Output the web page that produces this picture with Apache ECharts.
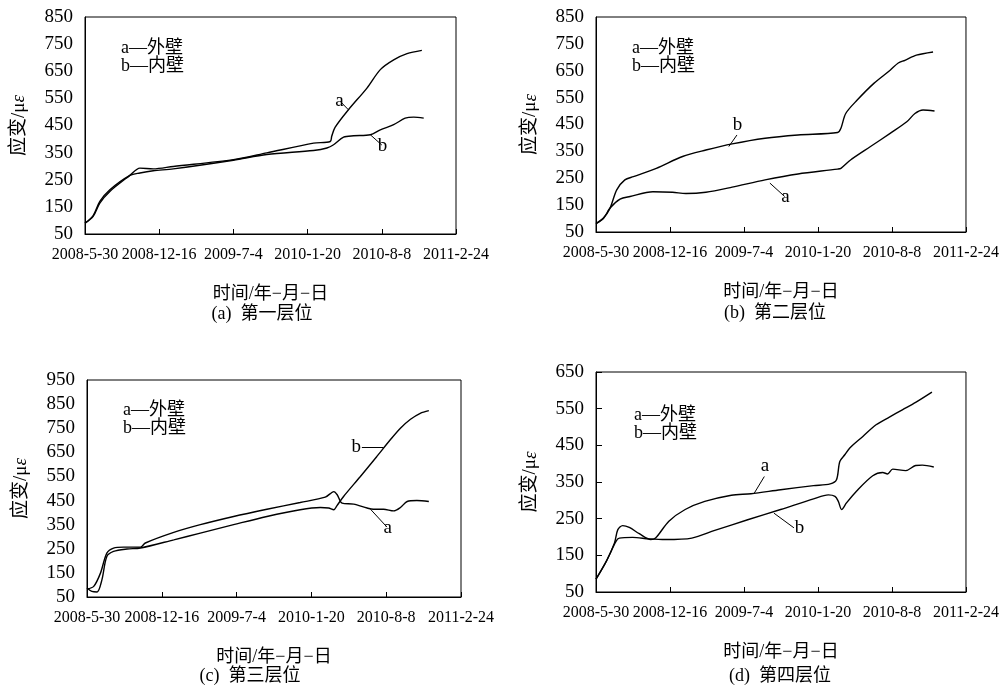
<!DOCTYPE html>
<html><head><meta charset="utf-8">
<script src="https://cdn.jsdelivr.net/npm/echarts@6/dist/echarts.min.js"></script>
<style>html,body{margin:0;padding:0;background:#fff}#c{width:1002px;height:689px}</style>
</head><body><div id="c"></div>
<script>
// ---- tick labels ----
const xTickLabels = ['2008-5-30','2008-12-16','2009-7-4','2010-1-20','2010-8-8','2011-2-24'];
const yTicksA = [50,150,250,350,450,550,650,750,850];
const yTicksB = [50,150,250,350,450,550,650,750,850];
const yTicksC = [50,150,250,350,450,550,650,750,850,950];
const yTicksD = [50,150,250,350,450,550,650];
const captions = ['(a)  第一层位','(b)  第二层位','(c)  第三层位','(d)  第四层位'];
const legendLines = ['a—外壁','b—内壁'];

// ---- series: days since 2008-5-30, strain (με) ----
// panel (a)
const daysA_a = [0,22,40,67,121,148,184,238,400,490,616,661,665,674,710,760,796,832,868,908];
const valsA_a = [90,115,164,207,266,293,290,299,324,349,385,391,410,443,508,588,656,692,715,727];
const daysA_b = [0,22,40,67,121,148,184,238,400,490,616,652,670,697,724,769,796,832,863,886,913];
const valsA_b = [90,118,170,213,266,275,283,290,322,343,358,367,379,407,412,416,434,453,477,481,477];
// panel (b)
const daysB_a = [0,20,38,65,92,154,207,243,297,368,457,546,653,662,688,742,795,840,862,884,915];
const valsB_a = [81,100,139,172,182,200,198,193,198,217,244,266,284,287,318,368,417,460,491,504,500];
const daysB_b = [0,20,38,56,78,101,163,234,297,368,457,546,653,662,675,706,751,795,817,835,866,911];
const valsB_b = [81,102,139,207,244,256,287,331,355,378,399,411,420,436,491,541,603,652,679,689,708,720];
// panel (c)
const daysC_a = [0,18,36,53,71,98,143,156,232,303,392,481,570,637,660,669,682,713,749,766,793,820,838,856,882,914];
const valsC_a = [83,94,149,232,253,257,257,274,318,350,384,414,442,464,487,474,439,435,419,414,414,407,421,446,450,446];
const daysC_b = [0,13,27,40,53,71,107,143,232,303,392,481,570,624,646,660,668,686,731,775,811,838,865,891,914];
const valsC_b = [87,73,71,122,218,239,249,253,287,315,350,384,412,421,419,412,428,467,550,633,702,750,787,812,823];
// panel (d)
const daysD_a = [0,28,50,59,72,90,117,148,161,197,241,294,366,419,499,588,633,650,659,673,686,722,757,793,828,864,908];
const valsD_a = [85,134,184,220,231,226,209,193,197,243,275,297,314,318,329,340,345,356,406,425,443,475,506,527,547,567,595];
const daysD_b = [0,28,54,63,99,143,188,259,321,410,499,588,628,646,655,664,677,704,748,775,788,802,837,864,882,913];
const valsD_b = [85,134,188,197,199,195,193,197,218,247,275,304,315,311,297,275,293,325,367,376,372,385,381,395,396,391];

// ---- annotation leaders: [curve point] -> [label point], in data units ----
const notesA = [['a',[710,508],[688,539]],['b',[769,416],[800,378]]];
const notesB = [['b',[359,368],[381,411]],['a',[470,232],[510,182]]];
const notesC = [['b',[793,671],[735,671]],['a',[758,414],[802,340]]];
const notesD = [['a',[428,320],[455,365]],['b',[481,265],[535,225]]];

const BASE = Date.UTC(2008,4,30);
function dayOf(s){const p=s.split('-').map(Number);return Math.round((Date.UTC(p[0],p[1]-1,p[2])-BASE)/86400000);}
const xTickDays = xTickLabels.map(dayOf);
const zip=(d,v)=>d.map((x,i)=>[x,v[i]]);

const SERIF = '"Liberation Serif","Times New Roman","Noto Sans CJK SC",serif';
const CJK = '"Liberation Serif","Noto Sans CJK SC",serif';

const panels = [
  {grid:{left:85,top:17,width:371,height:217}, yTicks:yTicksA, yTick:false, a:zip(daysA_a,valsA_a), b:zip(daysA_b,valsA_b), notes:notesA,
   cap:[262,314], leg:[121,48]},
  {grid:{left:596,top:17,width:374,height:215}, yTicks:yTicksB, yTick:false, a:zip(daysB_a,valsB_a), b:zip(daysB_b,valsB_b), notes:notesB,
   cap:[775,313], leg:[632,48]},
  {grid:{left:87,top:380,width:374,height:217}, yTicks:yTicksC, yTick:false, a:zip(daysC_a,valsC_a), b:zip(daysC_b,valsC_b), notes:notesC,
   cap:[250,676], leg:[123,410]},
  {grid:{left:596,top:372,width:375,height:220}, yTicks:yTicksD, yTick:true, a:zip(daysD_a,valsD_a), b:zip(daysD_b,valsD_b), notes:notesD,
   cap:[780,676], leg:[634,415]}
];

const option = {backgroundColor:'#fff', animation:false, grid:[], xAxis:[], yAxis:[], series:[], graphic:[]};
panels.forEach((p,i)=>{
  option.grid.push(Object.assign({show:true,borderColor:'#000',borderWidth:1,backgroundColor:'transparent'},p.grid));
  option.xAxis.push({type:'value',gridIndex:i,min:xTickDays[0],max:xTickDays[xTickDays.length-1],
    axisLine:{lineStyle:{color:'#000',width:1}},
    axisTick:{show:true,inside:true,length:5,lineStyle:{color:'#000'},customValues:xTickDays},
    axisLabel:{color:'#000',fontFamily:SERIF,fontSize:16,margin:13,customValues:xTickDays,
      formatter:v=>{const k=xTickDays.indexOf(Math.round(v));return k>=0?xTickLabels[k]:'';}},
    splitLine:{show:false},
    name:'时间/年−月−日',nameLocation:'middle',nameGap:51,
    nameTextStyle:{color:'#000',fontFamily:CJK,fontSize:18}});
  option.yAxis.push({type:'value',gridIndex:i,min:p.yTicks[0],max:p.yTicks[p.yTicks.length-1],
    axisLine:{show:true,lineStyle:{color:'#000',width:1}},
    axisTick:{show:p.yTick,inside:true,length:6,lineStyle:{color:'#000'},customValues:p.yTicks},
    axisLabel:{color:'#000',fontFamily:SERIF,fontSize:19,margin:12,customValues:p.yTicks},
    splitLine:{show:false},
    name:'{n|应变/μ}{e|ε}',nameLocation:'middle',nameRotate:90,nameGap:56,
    nameTextStyle:{rich:{n:{color:'#000',fontFamily:CJK,fontSize:19},e:{color:'#000',fontFamily:SERIF,fontSize:19,fontStyle:'italic'}}}});
  const ml = p.notes.map(n=>[{coord:n[1]},{coord:n[2],label:{show:true,position:'end',distance:1,formatter:n[0],
      color:'#000',fontFamily:SERIF,fontSize:19}}]);
  ['a','b'].forEach((key,j)=>{
    option.series.push({type:'line',name:key,xAxisIndex:i,yAxisIndex:i,data:p[key],showSymbol:false,smooth:0.3,
      lineStyle:{color:'#000',width:1.4},
      markLine: j===0 ? {silent:true,symbol:['none','none'],lineStyle:{color:'#000',width:1,type:'solid'},data:ml} : undefined});
  });
  option.graphic.push({type:'text',x:p.cap[0],y:p.cap[1],style:{text:captions[i],fill:'#000',font:'18px '+CJK,textAlign:'center',textVerticalAlign:'middle'}});
  legendLines.forEach((t,k)=>{
    option.graphic.push({type:'text',x:p.leg[0],y:p.leg[1]+k*18,style:{text:t,fill:'#000',font:'18px '+CJK,textAlign:'left',textVerticalAlign:'middle'}});
  });
});
const chart = echarts.init(document.getElementById('c'),null,{renderer:'canvas'});
chart.setOption(option);
</script></body></html>
